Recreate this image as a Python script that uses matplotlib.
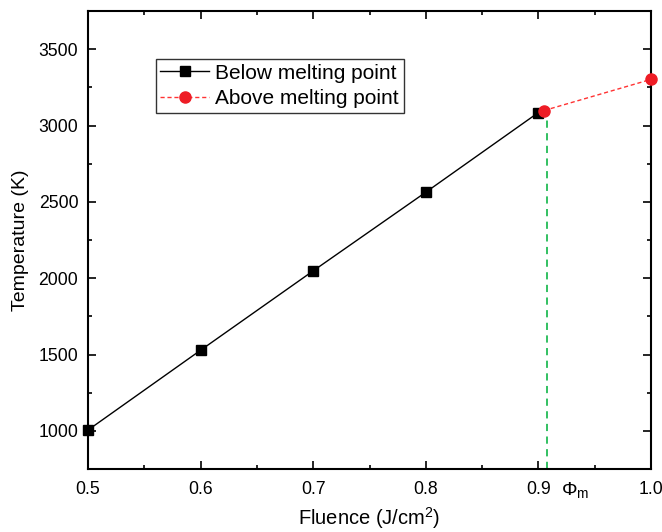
import matplotlib
matplotlib.use("Agg")
import matplotlib.pyplot as plt
from matplotlib.ticker import MultipleLocator

plt.rcParams['font.family'] = ['Liberation Sans', 'DejaVu Sans']
plt.rcParams['mathtext.fontset'] = 'custom'
plt.rcParams['mathtext.rm'] = 'Liberation Sans'
plt.rcParams['mathtext.it'] = 'Liberation Sans:italic'

# data
fluence_below = [0.5, 0.6, 0.7, 0.8, 0.9]
temp_below = [1005, 1528, 2048, 2563, 3085]
fluence_above = [0.905, 1.0]
temp_above = [3098, 3302]
phi_m = 0.908
phi_m_temp = 3098

fig = plt.figure(figsize=(6.62, 5.32), dpi=100)
ax = fig.add_axes([88 / 662, 1 - 469 / 532, 563 / 662, 458 / 532])

ax.plot(fluence_below, temp_below, color='black', lw=1, marker='s', ms=7,
        label='Below melting point', clip_on=False, zorder=3)
ax.plot(fluence_above, temp_above, color='#ff3333', lw=1, ls=(0, (3, 2)),
        marker='o', ms=8, mfc='#ee1c25', mec='#ee1c25',
        label='Above melting point', clip_on=False, zorder=4)
ax.plot([phi_m, phi_m], [750, phi_m_temp], color='#22bb55', lw=1.3,
        ls=(0, (4, 3)), zorder=2)

ax.set_xlim(0.5, 1.0)
ax.set_ylim(750, 3750)
ax.xaxis.set_major_locator(MultipleLocator(0.1))
ax.xaxis.set_minor_locator(MultipleLocator(0.05))
ax.yaxis.set_major_locator(MultipleLocator(500))
ax.yaxis.set_minor_locator(MultipleLocator(250))
ax.set_xticks([0.5, 0.6, 0.7, 0.8, 0.9, 1.0])
ax.set_xticklabels(['0.5', '0.6', '0.7', '0.8', '0.9', '1.0'])
ax.tick_params(which='both', direction='in', top=True, right=True,
               width=1.2, labelsize=12.7)
ax.tick_params(axis='y', pad=7)
ax.tick_params(axis='x', pad=9)
ax.tick_params(which='major', length=6)
ax.tick_params(which='minor', length=3)
for s in ax.spines.values():
    s.set_linewidth(1.5)

ax.text(0.92, -0.025, r'$\Phi_\mathrm{m}$', transform=ax.get_xaxis_transform(),
        ha='left', va='top', fontsize=14, family='DejaVu Sans')

fig.text(369 / 662, 1 / 532, 'Fluence (J/cm$^2$)', fontsize=14.5,
         ha='center', va='bottom')
ax.set_ylabel('Temperature (K)', fontsize=14, labelpad=7)

leg = ax.legend(loc='upper left', bbox_to_anchor=(0.120, 0.895), fontsize=15,
                frameon=True, fancybox=False, edgecolor='black',
                handlelength=2.35, borderpad=0.22, labelspacing=0.3,
                handletextpad=0.3, borderaxespad=0)
leg.get_frame().set_linewidth(1)

fig.savefig('out.png', dpi=100)
